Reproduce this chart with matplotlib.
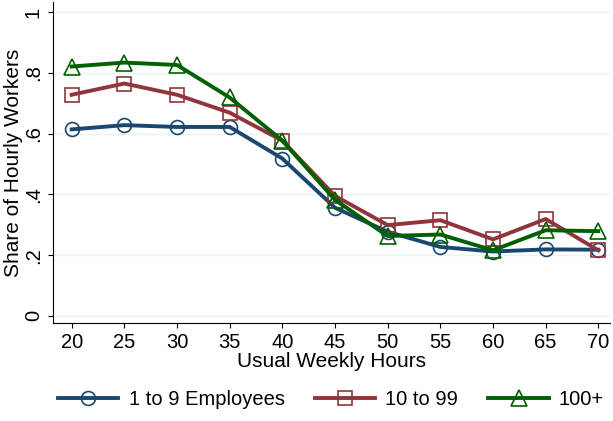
import matplotlib
matplotlib.use("Agg")
import matplotlib.pyplot as plt

plt.rcParams['font.family'] = ['Liberation Sans', 'DejaVu Sans']

hours = [20, 25, 30, 35, 40, 45, 50, 55, 60, 65, 70]
small = [0.614, 0.628, 0.622, 0.622, 0.518, 0.356, 0.277, 0.227, 0.212, 0.219, 0.218]
mid = [0.728, 0.765, 0.728, 0.669, 0.577, 0.395, 0.299, 0.315, 0.252, 0.319, 0.216]
large = [0.821, 0.834, 0.826, 0.719, 0.577, 0.382, 0.263, 0.268, 0.216, 0.282, 0.279]

fig = plt.figure(figsize=(6.13, 4.21), dpi=100)
ax = fig.add_axes([0.086, 0.233, 0.909, 0.762])

ax.plot(hours, small, color='#1a476f', lw=2.8, marker='o', ms=10, mfc='none', mew=1.2, label='1 to 9 Employees')
ax.plot(hours, mid, color='#90353b', lw=2.8, marker='s', ms=10, mfc='none', mew=1.2, label='10 to 99')
ax.plot(hours, large, color='#006000', lw=2.8, marker='^', ms=11, mfc='none', mew=1.2, label='100+')

ax.set_xlim(18.2, 71.1)
ax.set_ylim(-0.023, 1.033)
ax.set_xticks(hours)
ax.set_yticks([0, 0.2, 0.4, 0.6, 0.8, 1])
ax.set_yticklabels(['0', '.2', '.4', '.6', '.8', '1'], rotation=90, va='center')
ax.tick_params(labelsize=14.5)
ax.grid(axis='y', color='#eaf2f3', lw=1)
ax.set_axisbelow(True)
for s in ['top', 'right']:
    ax.spines[s].set_visible(False)
ax.set_xlabel('Usual Weekly Hours', fontsize=15, labelpad=0)
ax.set_ylabel('Share of Hourly Workers', fontsize=15, labelpad=1)

fig.legend(loc='lower center', bbox_to_anchor=(0.54, -0.015), ncol=3, frameon=False, fontsize=14.5,
           handlelength=3, columnspacing=1.5, handletextpad=0.5)

fig.savefig('out.png', dpi=100)
